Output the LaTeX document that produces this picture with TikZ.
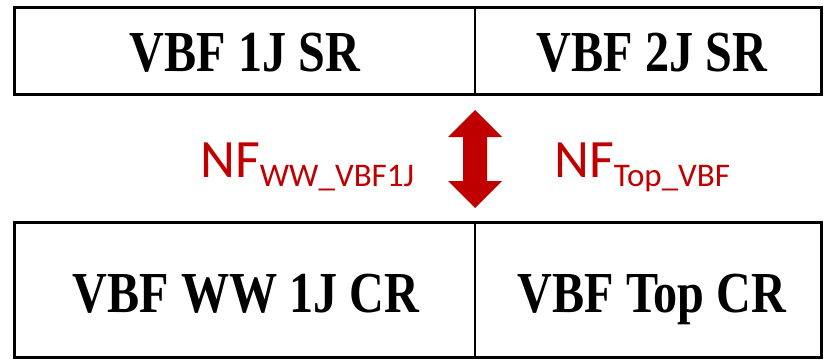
\documentclass[tikz,border=0pt]{standalone}
\usepackage{fontspec}
\setmainfont{Liberation Serif}
\newfontfamily\boxfont[FakeStretch=0.83]{Liberation Serif Bold}
\newfontfamily\nffont{Carlito}
\definecolor{nfred}{HTML}{C00000}
\tikzset{
  outer/.style={draw=black, line width=3pt},
  divider/.style={draw=black, line width=2pt},
  cell/.style={font=\boxfont\fontsize{58}{58}\selectfont, inner sep=0pt, anchor=base},
  nflabel/.style={font=\nffont\fontsize{54}{54}\selectfont, text=nfred, inner sep=0pt, anchor=base west},
  bigarrow/.style={draw=none, fill=nfred}
}
\newcommand{\nfsub}[1]{NF\raisebox{-9pt}{\fontsize{33}{33}\selectfont #1}}
\begin{document}
\begin{tikzpicture}[x=1pt, y=-1pt]
\useasboundingbox (0,0) rectangle (836,361);
% top box
\coordinate (tl) at (14,8);
\coordinate (tr) at (821,95);
\draw[outer] (tl) rectangle (tr);
\coordinate (td1) at (475,8);
\coordinate (td2) at (475,95);
\draw[divider] (td1) -- (td2);
\node[cell] (sr1) at (245,72) {VBF 1J SR};
\node[cell] (sr2) at (652,72) {VBF 2J SR};
% bottom box
\coordinate (bl) at (14,222);
\coordinate (br) at (821,357);
\draw[outer] (bl) rectangle (br);
\coordinate (bd1) at (475,222);
\coordinate (bd2) at (475,357);
\draw[divider] (bd1) -- (bd2);
\node[cell] (cr1) at (246,312) {VBF WW 1J CR};
\node[cell] (cr2) at (652,312) {VBF Top CR};
% double arrow
\fill[bigarrow] (475,110) -- (502,137) -- (487,137) -- (487,181) -- (502,181)
  -- (475,208) -- (448,181) -- (463,181) -- (463,137) -- (448,137) -- cycle;
\node[nflabel] (nf1) at (200,177) {\nfsub{WW\_VBF1J}};
\node[nflabel] (nf2) at (554,177) {\nfsub{Top\_VBF}};
\end{tikzpicture}
\end{document}
